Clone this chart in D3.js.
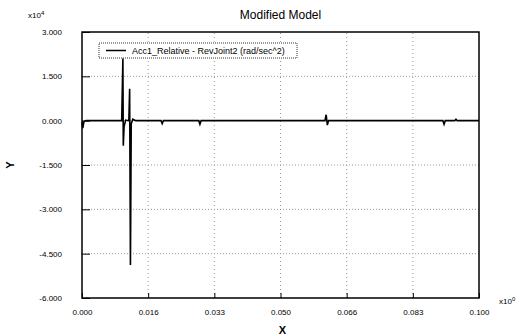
<!DOCTYPE html>
<html>
<head>
<meta charset="utf-8">
<script src="https://cdn.jsdelivr.net/npm/d3@7"></script>
<style>
  body { margin: 0; background: #fff; }
  text { font-family: "Liberation Sans", Arial, sans-serif; fill: #000; }
</style>
</head>
<body>
<div id="chart"></div>
<script>
// time (s) and acceleration (x10^4 rad/sec^2)
let timeVals = [0.0000, 0.0002, 0.0005, 0.0010, 0.0100, 0.0103, 0.0104, 0.0106, 0.0110, 0.0118,
                0.0120, 0.0122, 0.0124, 0.0128, 0.0135, 0.0199, 0.0202, 0.0205, 0.0294, 0.0297,
                0.0300, 0.0612, 0.0615, 0.0618, 0.0621, 0.0909, 0.0912, 0.0915, 0.0939, 0.0942,
                0.0945, 0.1000];
let accVals = [-0.05, -0.25, -0.02, 0.00, 0.00, 2.10, -0.85, -0.20, 0.02, 0.00,
               1.08, -4.88, -0.10, 0.05, 0.00, 0.00, -0.10, 0.00, 0.00, -0.12,
               0.00, 0.00, 0.20, -0.15, 0.00, 0.00, -0.12, 0.00, 0.00, 0.05,
               0.00, 0.00];
let xTicks = [0, 0.1 / 6, 0.2 / 6, 0.3 / 6, 0.4 / 6, 0.5 / 6, 0.1];
let xTickLabels = ["0.000", "0.016", "0.033", "0.050", "0.066", "0.083", "0.100"];
let yTicks = [3, 1.5, 0, -1.5, -3, -4.5, -6];
let yTickLabels = ["3.000", "1.500", "0.000", "-1.500", "-3.000", "-4.500", "-6.000"];
let seriesName = "Acc1_Relative - RevJoint2 (rad/sec^2)";

let w = 516, h = 335;
let m = {top: 32, right: 37, bottom: 37, left: 82};

let svg = d3.select("#chart")
  .append("svg")
  .attr("width", w)
  .attr("height", h);

let x = d3.scaleLinear().domain([0, 0.1]).range([m.left, w - m.right]);
let y = d3.scaleLinear().domain([-6, 3]).range([h - m.bottom, m.top]);

//grid
svg.append("g").selectAll("line")
  .data(yTicks.slice(1, -1))
  .enter().append("line")
  .attr("x1", x(0)).attr("x2", x(0.1))
  .attr("y1", d => y(d)).attr("y2", d => y(d))
  .attr("stroke", "#999").attr("stroke-width", 1)
  .attr("stroke-dasharray", "1,2");

svg.append("g").selectAll("line")
  .data(xTicks.slice(1, -1))
  .enter().append("line")
  .attr("y1", y(-6)).attr("y2", y(3))
  .attr("x1", d => x(d)).attr("x2", d => x(d))
  .attr("stroke", "#999").attr("stroke-width", 1)
  .attr("stroke-dasharray", "1,3");

//axes
let yAxis = d3.axisLeft(y)
  .tickValues(yTicks)
  .tickSize(-8)
  .tickPadding(20)
  .tickFormat((d, i) => yTickLabels[i]);

let gy = svg.append("g")
  .attr("transform", "translate(" + m.left + ",0)")
  .call(yAxis);

let xAxis = d3.axisBottom(x)
  .tickValues(xTicks)
  .tickSize(-5)
  .tickPadding(11)
  .tickFormat((d, i) => xTickLabels[i]);

let gx = svg.append("g")
  .attr("transform", "translate(0," + (h - m.bottom) + ")")
  .call(xAxis);

[gx, gy].forEach(g => {
  g.select(".domain").remove();
  g.selectAll("line").attr("stroke", "#000").attr("stroke-width", 1);
  g.selectAll("text")
    .style("font-family", "'Liberation Sans', Arial, sans-serif")
    .style("font-size", "8px")
    .attr("fill", "#000");
});

//plot frame
svg.append("rect")
  .attr("x", x(0)).attr("y", y(3))
  .attr("width", x(0.1) - x(0))
  .attr("height", y(-6) - y(3))
  .attr("fill", "none")
  .attr("stroke", "#000")
  .attr("stroke-width", 1.5);

//series
let pts = timeVals.map((t, i) => [t, accVals[i]]);
let line = d3.line()
  .x(d => x(d[0]))
  .y(d => y(d[1]));

svg.append("path")
  .datum(pts)
  .attr("d", line)
  .attr("fill", "none")
  .attr("stroke", "#000")
  .attr("stroke-width", 1.6)
  .attr("stroke-linejoin", "miter");

//legend
let legend = svg.append("g").attr("transform", "translate(99,43)");
legend.append("rect")
  .attr("width", 198).attr("height", 15)
  .attr("fill", "#fff")
  .attr("stroke", "#000")
  .attr("stroke-width", 0.8)
  .attr("stroke-dasharray", "1,1");
legend.append("line")
  .attr("x1", 7).attr("x2", 27)
  .attr("y1", 7.5).attr("y2", 7.5)
  .attr("stroke", "#000").attr("stroke-width", 1.5);
legend.append("text")
  .attr("x", 33).attr("y", 10.5)
  .style("font-size", "9px")
  .text(seriesName);

//titles and labels
svg.append("text")
  .attr("x", (x(0) + x(0.1)) / 2).attr("y", 19)
  .attr("text-anchor", "middle")
  .style("font-size", "12px")
  .text("Modified Model");

svg.append("text")
  .attr("x", 28).attr("y", 18)
  .style("font-size", "8px")
  .text("x10")
  .append("tspan").attr("dy", -3).style("font-size", "6px").text("4");

svg.append("text")
  .attr("x", 499).attr("y", 304)
  .style("font-size", "8px")
  .text("x10")
  .append("tspan").attr("dy", -3).style("font-size", "6px").text("0");

svg.append("text")
  .attr("x", (x(0) + x(0.1)) / 2 + 2).attr("y", 334)
  .attr("text-anchor", "middle")
  .style("font-size", "11px")
  .style("font-weight", "bold")
  .text("X");

svg.append("text")
  .attr("transform", "translate(14,165) rotate(-90)")
  .attr("text-anchor", "middle")
  .style("font-size", "11px")
  .style("font-weight", "bold")
  .text("Y");
</script>
</body>
</html>
